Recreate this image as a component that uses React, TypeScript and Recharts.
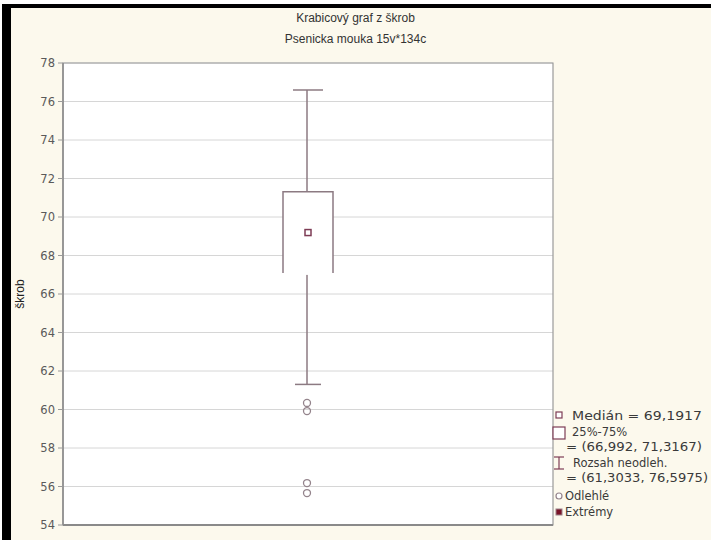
import React from 'react';
import {
  ComposedChart,
  Bar,
  Scatter,
  XAxis,
  YAxis,
  CartesianGrid,
  ReferenceArea,
  ReferenceLine,
} from 'recharts';

// ---- data ----
const categories = ['škrob'];
const q1Values = [66.992];
const q3Values = [71.3167];
const medianValues = [69.1917];
const whiskerLow = [61.3033];
const whiskerHigh = [76.5975];
const outlierValues = [60.34, 59.92, 56.18, 55.66];
const yTicks = [54, 56, 58, 60, 62, 64, 66, 68, 70, 72, 74, 76, 78];
const titleLines = ['Krabicový graf z škrob', 'Psenicka mouka 15v*134c'];
const yLabel = 'škrob';

const data = categories.map((name, i) => {
  const row: any = {
    name,
    box: [q1Values[i], q3Values[i]],
    whisker: [whiskerLow[i], whiskerHigh[i]],
    median: medianValues[i],
  };
  outlierValues.forEach((v, k) => {
    row['o' + k] = v;
  });
  return row;
});

const fmt = (v: number) => String(v).replace('.', ',');

const BOX_COLOR = '#8c7a82';
const MED_COLOR = '#7d3c55';
const OUT_COLOR = '#94848c';

const WhiskerShape = (p: any) => {
  const { x, y, width, height } = p;
  const top = Math.min(y, y + height);
  const bot = Math.max(y, y + height);
  const cx = x + width / 2 - 1;
  return (
    <g stroke={BOX_COLOR} strokeWidth={1.5} fill="none">
      <line x1={cx} x2={cx} y1={top} y2={bot} />
      <line x1={x} x2={x + width} y1={top} y2={top} />
      <line x1={x + 2} x2={x + width - 2} y1={bot} y2={bot} />
    </g>
  );
};

const BoxShape = (p: any) => {
  const { x, y, width, height } = p;
  const top = Math.min(y, y + height);
  const bot = Math.max(y, y + height);
  return (
    <g>
      <rect x={x} y={top} width={width} height={bot - top} fill="#ffffff" />
      <path
        d={`M${x},${bot - 2} L${x},${top} L${x + width},${top} L${x + width},${bot - 2}`}
        fill="none"
        stroke={BOX_COLOR}
        strokeWidth={1.5}
      />
    </g>
  );
};

const MedianShape = (p: any) => {
  const { cx, cy } = p;
  if (cx == null || cy == null) return <g />;
  return (
    <rect
      x={cx - 3}
      y={cy - 3}
      width={6}
      height={6}
      fill="#ffffff"
      stroke={MED_COLOR}
      strokeWidth={1.5}
    />
  );
};

const OutlierShape = (p: any) => {
  const { cx, cy } = p;
  if (cx == null || cy == null) return <g />;
  return <circle cx={cx - 1} cy={cy} r={3.5} fill="none" stroke={OUT_COLOR} strokeWidth={1.3} />;
};

const legendFont = { fontFamily: 'DejaVu Sans', fontSize: 11.5, fill: '#3a3a3a' };

const LegendOverlay = () => (
  <svg
    width={711}
    height={540}
    style={{ position: 'absolute', left: 0, top: 0, pointerEvents: 'none' }}
  >
    {/* Median */}
    <rect x={556} y={412} width={6} height={6} fill="#fff" stroke={MED_COLOR} strokeWidth={1.2} />
    <text x={572} y={420} textLength={130} lengthAdjust="spacingAndGlyphs" {...legendFont}>
      {`Medián = ${fmt(medianValues[0])}`}
    </text>
    {/* 25-75 */}
    <rect x={553} y={427} width={12} height={12} fill="#fff" stroke={MED_COLOR} strokeWidth={1.2} />
    <text x={572} y={436} {...legendFont}>
      25%-75%
    </text>
    <text x={566} y={451} textLength={136} lengthAdjust="spacingAndGlyphs" {...legendFont}>
      {`= (${fmt(q1Values[0])}, ${fmt(q3Values[0])})`}
    </text>
    {/* whisker range */}
    <g stroke={MED_COLOR} strokeWidth={1.2}>
      <line x1={554} x2={564} y1={457} y2={457} />
      <line x1={559} x2={559} y1={457} y2={469} />
      <line x1={554} x2={564} y1={469} y2={469} />
    </g>
    <text x={573} y={467} {...legendFont}>
      Rozsah neodleh.
    </text>
    <text x={566} y={482} textLength={142} lengthAdjust="spacingAndGlyphs" {...legendFont}>
      {`= (${fmt(whiskerLow[0])}, ${fmt(whiskerHigh[0])})`}
    </text>
    {/* outliers */}
    <circle cx={559} cy={496} r={3} fill="#fff" stroke={OUT_COLOR} strokeWidth={1.2} />
    <text x={565} y={500} {...legendFont}>Odlehlé</text>
    {/* extremes */}
    <rect x={556} y={509} width={6} height={6} fill="#7a1428" stroke="#9a8088" strokeWidth={1} />
    <text x={565} y={516} {...legendFont}>Extrémy</text>
  </svg>
);

export default function App() {
  return (
    <div
      style={{
        position: 'absolute',
        left: 0,
        top: 0,
        width: 711,
        height: 540,
        background: '#ffffff',
        overflow: 'hidden',
      }}
    >
      <div
        style={{
          position: 'absolute',
          left: 2,
          top: 4,
          width: 709,
          height: 536,
          boxSizing: 'border-box',
          borderLeft: '9px solid #000',
          borderTop: '4px solid #000',
          background: '#fcf9ed',
        }}
      />
      <div
        style={{
          position: 'absolute',
          left: 0,
          top: 8,
          width: 711,
          textAlign: 'center',
          fontFamily: 'Liberation Sans, Arial, sans-serif',
          fontSize: 12,
          color: '#333',
          lineHeight: '21px',
        }}
      >
        <div>{titleLines[0]}</div>
        <div>{titleLines[1]}</div>
      </div>
      <div
        style={{
          position: 'absolute',
          left: 20,
          top: 294,
          transform: 'translate(-50%, -50%) rotate(-90deg)',
          fontFamily: 'Liberation Sans, Arial, sans-serif',
          fontSize: 12,
          color: '#222',
          whiteSpace: 'nowrap',
        }}
      >
        {yLabel}
      </div>
      <div style={{ position: 'absolute', left: 0, top: 0 }}>
        <ComposedChart
          width={711}
          height={540}
          data={data}
          margin={{ top: 63, right: 158, bottom: 15, left: 10 }}
        >
          <XAxis xAxisId="box" dataKey="name" type="category" hide />
          <XAxis xAxisId="wh" dataKey="name" type="category" hide />
          <YAxis
            domain={[54, 78]}
            ticks={yTicks}
            interval={0}
            width={53}
            tickSize={5}
            tickMargin={3}
            axisLine={{ stroke: '#8a8a8a', strokeWidth: 1.5 }}
            tickLine={{ stroke: '#9a9a9a' }}
            tick={{ fontFamily: 'DejaVu Sans', fontSize: 11.5, fill: '#5a5a5a' }}
          />
          <CartesianGrid
            xAxisId="box"
            vertical={false}
            horizontal
            stroke="#d6d6d6"
            fill="#ffffff"
            fillOpacity={1}
          />
          <ReferenceArea
            xAxisId="box"
            y1={54}
            y2={78}
            fill="none"
            stroke="#9a9a9a"
            strokeWidth={1.2}
            ifOverflow="visible"
          />
          <ReferenceLine xAxisId="box" y={54} stroke="#8a8a8a" strokeWidth={2} />
          <Bar
            xAxisId="wh"
            dataKey="whisker"
            barSize={30}
            shape={WhiskerShape}
            isAnimationActive={false}
          />
          <Bar
            xAxisId="box"
            dataKey="box"
            barSize={50}
            shape={BoxShape}
            isAnimationActive={false}
          />
          <Scatter xAxisId="box" dataKey="median" shape={MedianShape} isAnimationActive={false} />
          {outlierValues.map((_, k) => (
            <Scatter
              key={k}
              xAxisId="box"
              dataKey={'o' + k}
              shape={OutlierShape}
              isAnimationActive={false}
            />
          ))}
        </ComposedChart>
      </div>
      <LegendOverlay />
    </div>
  );
}
